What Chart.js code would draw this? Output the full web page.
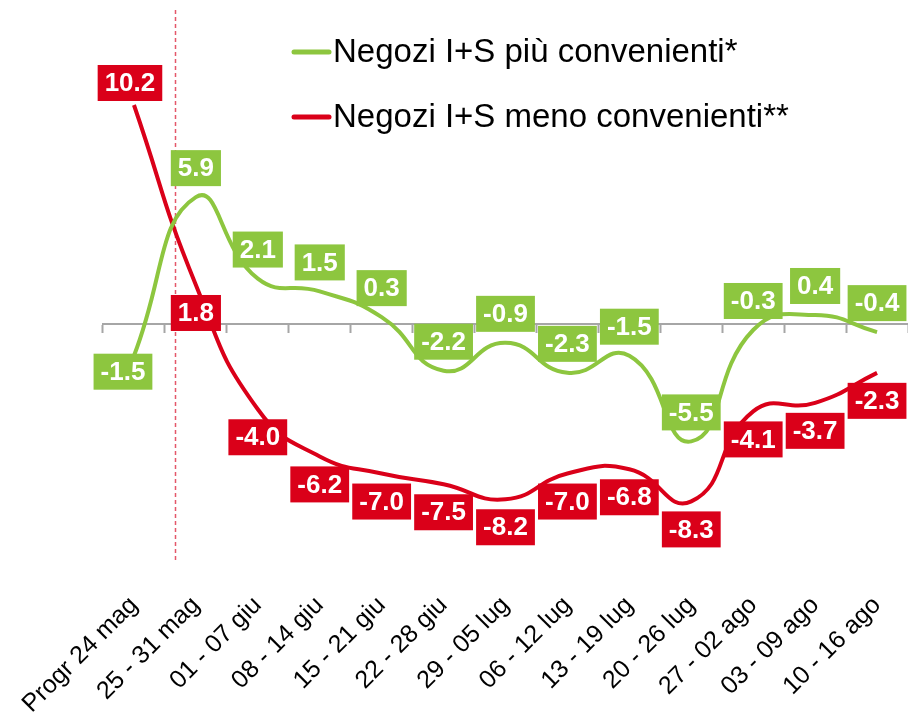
<!DOCTYPE html>
<html>
<head>
<meta charset="utf-8">
<script src="https://cdn.jsdelivr.net/npm/chart.js@4"></script>
<style>
  body { margin: 0; background: #fff; }
  #wrap { width: 908px; height: 724px; }
</style>
</head>
<body>
<div id="wrap"><canvas id="myChart" width="908" height="724"></canvas></div>
<script>
const weeks = [
  "Progr 24 mag", "25 - 31 mag", "01 - 07 giu", "08 - 14 giu", "15 - 21 giu",
  "22 - 28 giu", "29 - 05 lug", "06 - 12 lug", "13 - 19 lug", "20 - 26 lug",
  "27 - 02 ago", "03 - 09 ago", "10 - 16 ago"
];
const piuConvenienti = [-1.5, 5.9, 2.1, 1.5, 0.3, -2.2, -0.9, -2.3, -1.5, -5.5, -0.3, 0.4, -0.4];
const menoConvenienti = [10.2, 1.8, -4.0, -6.2, -7.0, -7.5, -8.2, -7.0, -6.8, -8.3, -4.1, -3.7, -2.3];

const GREEN = "#8DC63F";
const RED = "#DA0019";
const FONT = "'Liberation Sans', Arial, sans-serif";

// boxed value labels, green above / red below, first point is the other way round
const boxLabels = {
  id: "boxLabels",
  afterDatasetsDraw(chart) {
    const ctx = chart.ctx;
    ctx.save();
    ctx.font = "bold 26px " + FONT;
    ctx.textAlign = "center";
    ctx.textBaseline = "middle";
    chart.data.datasets.forEach((ds, di) => {
      const meta = chart.getDatasetMeta(di);
      meta.data.forEach((pt, i) => {
        let dx = 0, dy = di === 0 ? -29 : 28;
        if (i === 0) {
          dx = di === 0 ? -11 : -4;
          dy = di === 0 ? 16 : -22;
        }
        const txt = ds.data[i].toFixed(1);
        const w = ctx.measureText(txt).width + 14;
        const h = 36;
        const cx = pt.x + dx, cy = pt.y + dy;
        ctx.fillStyle = ds.borderColor;
        ctx.fillRect(cx - w / 2, cy - h / 2, w, h);
        ctx.fillStyle = "#fff";
        ctx.fillText(txt, cx, cy + 1);
      });
    });
    ctx.restore();
  }
};

// dashed marker line and the legend
const extras = {
  id: "extras",
  beforeDatasetsDraw(chart) {
    const ctx = chart.ctx;
    const x = Math.round(chart.scales.x.getPixelForValue(0.66)) + 0.5;
    ctx.save();
    ctx.strokeStyle = "#E4576A";
    ctx.lineWidth = 1.5;
    ctx.setLineDash([4, 3]);
    ctx.beginPath();
    ctx.moveTo(x, 10);
    ctx.lineTo(x, 562);
    ctx.stroke();
    ctx.restore();
  },
  afterDraw(chart) {
    const ctx = chart.ctx;
    ctx.save();
    ctx.font = "33px " + FONT;
    ctx.textBaseline = "middle";
    chart.data.datasets.forEach((ds, i) => {
      const y = 52 + i * 65;
      ctx.strokeStyle = ds.borderColor;
      ctx.lineWidth = 5;
      ctx.lineCap = "round";
      ctx.beginPath();
      ctx.moveTo(294, y);
      ctx.lineTo(329, y);
      ctx.stroke();
      ctx.fillStyle = "#000";
      ctx.fillText(ds.label, 333, y + 1);
    });
    ctx.restore();
  }
};

function myLoadFunction() {
  const ctx = document.getElementById("myChart").getContext("2d");
  var myChartConfig = {
    type: "line",
    data: {
      labels: weeks,
      datasets: [
        {
          label: "Negozi I+S più convenienti*",
          data: piuConvenienti,
          borderColor: GREEN,
          backgroundColor: GREEN,
          borderWidth: 4,
          pointRadius: 0,
          tension: 0.5,
        },
        {
          label: "Negozi I+S meno convenienti**",
          data: menoConvenienti,
          borderColor: RED,
          backgroundColor: RED,
          borderWidth: 4,
          pointRadius: 0,
          tension: 0.5,
        },
      ],
    },
    options: {
      responsive: false,
      animation: false,
      layout: { padding: { left: 103, right: 0, top: 0, bottom: 3 } },
      plugins: {
        legend: { display: false },
        tooltip: { enabled: false },
      },
      scales: {
        x: {
          offset: true,
          grid: { display: false },
          border: { display: false },
          ticks: {
            autoSkip: false,
            minRotation: 45,
            maxRotation: 45,
            color: "#000",
            padding: 2,
            font: { family: FONT, size: 25 },
          },
        },
        x0: {
          type: "category",
          offset: true,
          position: { y: 0 },
          grid: {
            offset: true,
            drawOnChartArea: false,
            drawTicks: true,
            tickLength: 8,
            tickWidth: 2,
            tickColor: "#A6A6A6",
          },
          border: { display: true, color: "#A6A6A6", width: 2 },
          ticks: { display: false },
        },
        y: {
          display: false,
          min: -12,
          max: 15.1,
        },
      },
    },
    plugins: [extras, boxLabels],
  };
  const myChart = new Chart(ctx, myChartConfig);
}

document.addEventListener("DOMContentLoaded", myLoadFunction);
</script>
</body>
</html>
